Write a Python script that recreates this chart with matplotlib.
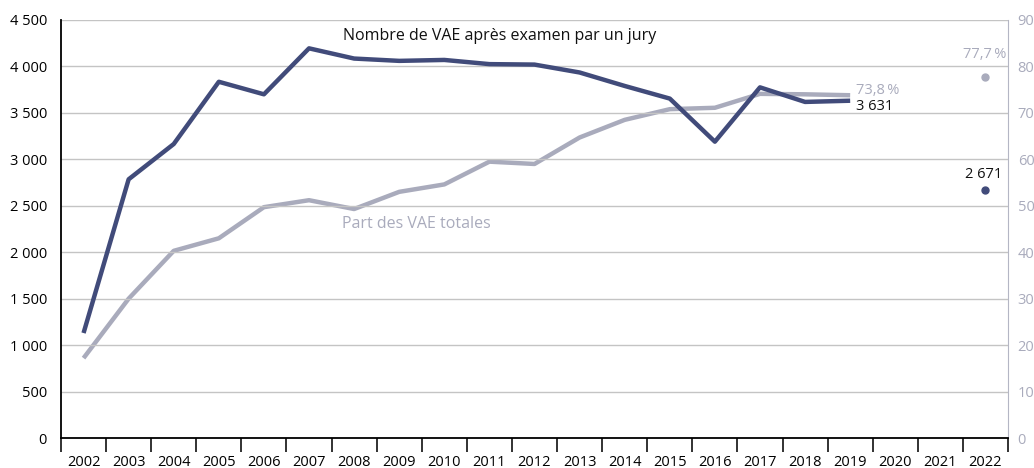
import numpy as np
import matplotlib.pyplot as plt

plt.rcParams['font.family'] = ['Open Sans', 'DejaVu Sans']

years = [str(y) for y in range(2002, 2023)]
nb_vae = [1130, 2785, 3165, 3835, 3700, 4195, 4085, 4060, 4070, 4025, 4020,
          3935, 3790, 3654, 3190, 3775, 3618, 3631, np.nan, np.nan, np.nan]
part_vae = [17.2, 30.0, 40.3, 43.0, 49.7, 51.2, 49.3, 53.0, 54.6, 59.5, 59.0,
            64.7, 68.5, 70.8, 71.1, 74.1, 74.0, 73.8, np.nan, np.nan, np.nan]
nb_2022 = 2671
part_2022 = 77.7

navy = '#414b7a'
grey = '#a9abbc'
axis_grey = '#b4b6c4'

fig = plt.figure(figsize=(10.34, 4.68), dpi=100)
ax = fig.add_axes([61 / 1034, 30 / 468, 947 / 1034, 418 / 468])
ax2 = ax.twinx()

x = np.arange(len(years))

ax.set_xlim(-0.5, len(years) - 0.5)
ax.set_ylim(0, 4500)
ax2.set_ylim(0, 90)

ax.set_yticks(np.arange(0, 4501, 500))
ax.set_yticklabels([f'{v:,}'.replace(',', ' ') if v >= 1000 else str(v)
                    for v in range(0, 4501, 500)], fontsize=10.5)
ax2.set_yticks(np.arange(0, 91, 10))
ax2.tick_params(axis='y', colors=grey, labelsize=10.5, length=0, pad=7)
ax.tick_params(axis='y', length=0, pad=10, labelsize=10.5)
ax.grid(axis='y', color='#c4c4c4', linewidth=1)
ax.set_axisbelow(True)

# category boundaries as ticks, labels at centres
ax.set_xticks(np.arange(-0.5, len(years)), minor=False)
ax.set_xticklabels([])
ax.set_xticks(x, minor=True)
ax.set_xticklabels(years, minor=True, fontsize=10.5)
ax.tick_params(axis='x', which='major', length=10, width=1.3, color='#222222')
ax.tick_params(axis='x', which='minor', length=0, pad=12)

ax.spines['top'].set_visible(False)
ax2.spines['top'].set_visible(False)
ax.spines['right'].set_visible(False)
ax2.spines['left'].set_visible(False)
ax2.spines['bottom'].set_visible(False)
ax2.spines['right'].set_color(axis_grey)
ax.spines['left'].set_linewidth(1.3)
ax.spines['bottom'].set_linewidth(1.3)

ax2.plot(x, part_vae, color=grey, linewidth=3.2, solid_capstyle='butt')
ax2.plot(x[-1], part_2022, 'o', color=grey, markersize=5)
ax2.set_zorder(1)
ax.set_zorder(2)
ax.patch.set_visible(False)

ax.plot(x, nb_vae, color=navy, linewidth=3.2, solid_capstyle='butt')
ax.plot(x[-1], nb_2022, 'o', color=navy, markersize=5)

ax.text(5.75, 4330, 'Nombre de VAE après examen par un jury', fontsize=11.5,
        color='#111111', va='center')
ax2.text(5.73, 46.0, 'Part des VAE totales', fontsize=11.5, color=grey, va='center')
ax2.text(17.14, 74.8, '73,8\u2009%', fontsize=10.5, color=grey, va='center')
ax.text(17.14, 3574, '3 631', fontsize=10.5, color='#111111', va='center')
ax2.text(20.47, 82.5, '77,7\u2009%', fontsize=10.5, color=grey, va='center', ha='right')
ax.text(20.37, 2842, '2 671', fontsize=10.5, color='#111111', va='center', ha='right')

fig.savefig('out.png', dpi=100)
